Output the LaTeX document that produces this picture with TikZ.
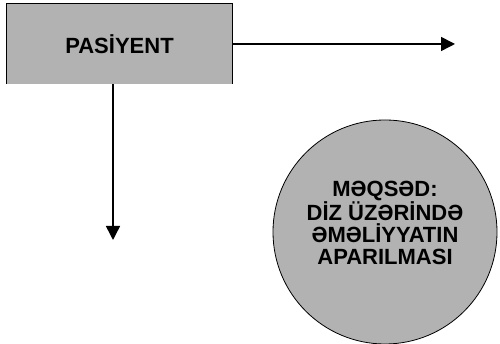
\documentclass[tikz,border=0pt]{standalone}
\usepackage{fontspec}
\setmainfont{Liberation Sans}
\usetikzlibrary{arrows.meta,positioning,shapes.geometric}

\begin{document}
\begin{tikzpicture}[x=1pt,y=1pt,>={Triangle[length=14pt,width=14pt]}]
	\useasboundingbox (0,0) rectangle (500,344);
	\node (pasiyent) [fill=black!30,minimum width=225pt,minimum height=80pt,font=\bfseries\fontsize{22}{24}\selectfont] at (119.5,300) {PAS\.IYENT};
	\draw [line width=1.3pt] (pasiyent.south west) |- (pasiyent.north east) -- (pasiyent.south east);
	\node (meqsed) [circle,draw,line width=0.8pt,fill=black!30,minimum size=224pt] at (385,112) {};
	\node (meqsedtext) [align=center,font=\bfseries\fontsize{22}{22}\selectfont] at ([yshift=9pt]meqsed.center) {MƏQSƏD:\\D\.IZ ÜZƏR\.INDƏ\\ƏMƏL\.IYYATIN\\APARILMASI};
	\coordinate (right) at (455,300);
	\coordinate (down) at (113,104);
	\draw [->,line width=1.5pt] (pasiyent.east) -- (right);
	\draw [->,line width=1.5pt] (down |- pasiyent.south) -- (down);
\end{tikzpicture}
\end{document}
